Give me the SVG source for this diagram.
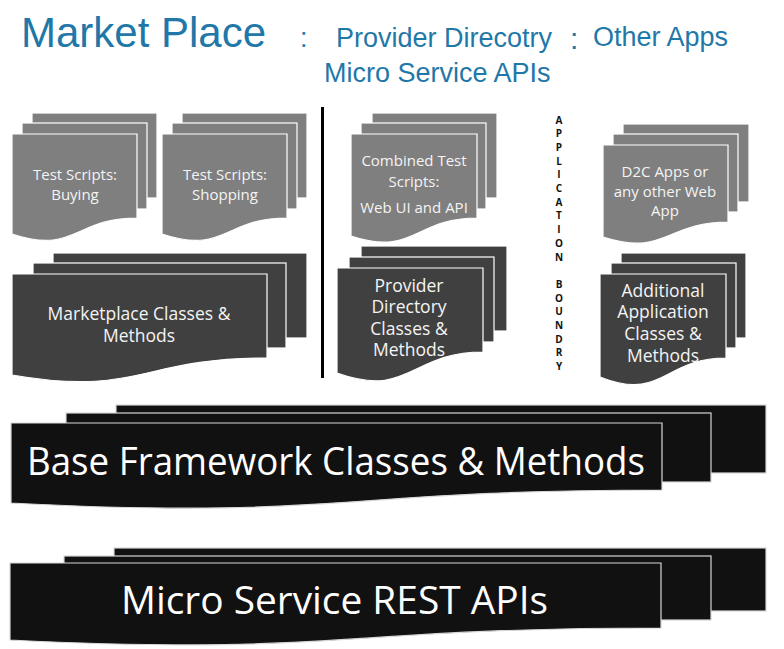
<svg xmlns="http://www.w3.org/2000/svg" width="784" height="649" viewBox="0 0 784 649">
<style>
.hdr{font-family:"Liberation Sans",Arial,sans-serif;fill:#1f78a8}
.gray{fill:#7f7f7f;stroke:#ffffff;stroke-width:1.2}
.dark{fill:#404040;stroke:#ffffff;stroke-width:1.2}
.blk{fill:#111111;stroke:#d8d8d8;stroke-width:1.2}
.t{font-family:"Open Sans","Noto Sans",sans-serif;fill:#f4f4f4;text-anchor:middle}
.s16{font-size:15px}
.s18{font-size:17.5px}
.big{font-family:"Open Sans","Noto Sans",sans-serif;fill:#ffffff;font-size:38px}
.bnd{font-family:"Open Sans","Noto Sans",sans-serif;font-weight:bold;font-size:10px;fill:#111;text-anchor:middle}
</style>
<rect width="784" height="649" fill="#ffffff"/>

<g id="header">
<text class="hdr" x="21" y="47" font-size="42">Market Place</text>
<text class="hdr" x="300" y="47" font-size="27">:</text>
<text class="hdr" x="336" y="47" font-size="27">Provider Direcotry</text>
<text class="hdr" x="570" y="49" font-size="30">:</text>
<text class="hdr" x="593" y="46" font-size="27">Other Apps</text>
<text class="hdr" x="324" y="82" font-size="27">Micro Service APIs</text>
</g>

<g id="test-scripts-buying">
<rect class="gray" x="32" y="113" width="125" height="85"/>
<rect class="gray" x="22" y="123" width="125" height="86"/>
<path class="gray" d="M12,134 H137 V218 C74.5,218 74.5,255 12,234 Z"/>
<text class="t s16" x="75" y="180">Test Scripts:</text>
<text class="t s16" x="75" y="200">Buying</text>
</g>

<g id="test-scripts-shopping">
<rect class="gray" x="182" y="113" width="125" height="85"/>
<rect class="gray" x="172" y="123" width="125" height="86"/>
<path class="gray" d="M162,134 H287 V218 C224.5,218 224.5,255 162,234 Z"/>
<text class="t s16" x="225" y="180">Test Scripts:</text>
<text class="t s16" x="225" y="200">Shopping</text>
</g>

<g id="marketplace-classes">
<rect class="dark" x="53" y="253" width="254" height="85"/>
<rect class="dark" x="33" y="263" width="253" height="85"/>
<path class="dark" d="M12,274 H267 V358 C139.5,358 139.5,397 12,375 Z"/>
<text class="t s18" x="139" y="320">Marketplace Classes &amp;</text>
<text class="t s18" x="139" y="342">Methods</text>
</g>

<g id="separator">
<line x1="322.5" y1="107" x2="322.5" y2="378" stroke="#000000" stroke-width="3"/>
</g>

<g id="combined-test-scripts">
<rect class="gray" x="372" y="113" width="125" height="85"/>
<rect class="gray" x="361" y="123" width="125" height="86"/>
<path class="gray" d="M351,134 H477 V218 C414,218 414,257 351,236 Z"/>
<text class="t s16" x="414" y="166">Combined Test</text>
<text class="t s16" x="414" y="187">Scripts:</text>
<text class="t s16" x="414" y="213">Web UI and API</text>
</g>

<g id="provider-directory-classes">
<rect class="dark" x="361" y="246" width="146" height="85"/>
<rect class="dark" x="349" y="257" width="145" height="85"/>
<path class="dark" d="M337,268 H483 V352 C410,352 410,399 337,373 Z"/>
<text class="t s18" x="409" y="292">Provider</text>
<text class="t s18" x="409" y="313">Directory</text>
<text class="t s18" x="409" y="335">Classes &amp;</text>
<text class="t s18" x="409" y="356">Methods</text>
</g>

<g id="application-boundary">
<text class="bnd" x="559" y="123.5">A</text>
<text class="bnd" x="559" y="137.2">P</text>
<text class="bnd" x="559" y="150.9">P</text>
<text class="bnd" x="559" y="164.6">L</text>
<text class="bnd" x="559" y="178.3">I</text>
<text class="bnd" x="559" y="192">C</text>
<text class="bnd" x="559" y="205.7">A</text>
<text class="bnd" x="559" y="219.4">T</text>
<text class="bnd" x="559" y="233.1">I</text>
<text class="bnd" x="559" y="246.8">O</text>
<text class="bnd" x="559" y="260.5">N</text>
<text class="bnd" x="559" y="287.9">B</text>
<text class="bnd" x="559" y="301.6">O</text>
<text class="bnd" x="559" y="315.3">U</text>
<text class="bnd" x="559" y="329">N</text>
<text class="bnd" x="559" y="342.7">D</text>
<text class="bnd" x="559" y="356.4">R</text>
<text class="bnd" x="559" y="370.1">Y</text>
</g>

<g id="d2c-apps">
<rect class="gray" x="623" y="124" width="126" height="78"/>
<rect class="gray" x="613" y="134" width="125" height="78"/>
<path class="gray" d="M603,145 H728 V222 C665.5,222 665.5,257 603,237 Z"/>
<text class="t s16" x="665" y="177">D2C Apps or</text>
<text class="t s16" x="665" y="197">any other Web</text>
<text class="t s16" x="665" y="216">App</text>
</g>

<g id="additional-application-classes">
<rect class="dark" x="621" y="253" width="125" height="85"/>
<rect class="dark" x="611" y="263" width="125" height="85"/>
<path class="dark" d="M600,274 H726 V358 C663,358 663,402 600,377 Z"/>
<text class="t s18" x="663" y="297">Additional</text>
<text class="t s18" x="663" y="318">Application</text>
<text class="t s18" x="663" y="340">Classes &amp;</text>
<text class="t s18" x="663" y="362">Methods</text>
</g>

<g id="base-framework">
<rect class="blk" x="116" y="405" width="650" height="68"/>
<rect class="blk" x="66" y="413" width="645" height="69"/>
<path class="blk" d="M11,423 H662 V490 C336.5,490 336.5,520 11,503 Z"/>
<text class="big" x="27" y="475" textLength="618" lengthAdjust="spacingAndGlyphs">Base Framework Classes &amp; Methods</text>
</g>

<g id="micro-service-rest-apis">
<rect class="blk" x="114" y="548" width="652" height="63"/>
<rect class="blk" x="64" y="556" width="647" height="64"/>
<path class="blk" d="M10,563 H661 V628 C335.5,628 335.5,656 10,640 Z"/>
<text class="big" x="121" y="614" textLength="427" lengthAdjust="spacingAndGlyphs">Micro Service REST APIs</text>
</g>
</svg>
